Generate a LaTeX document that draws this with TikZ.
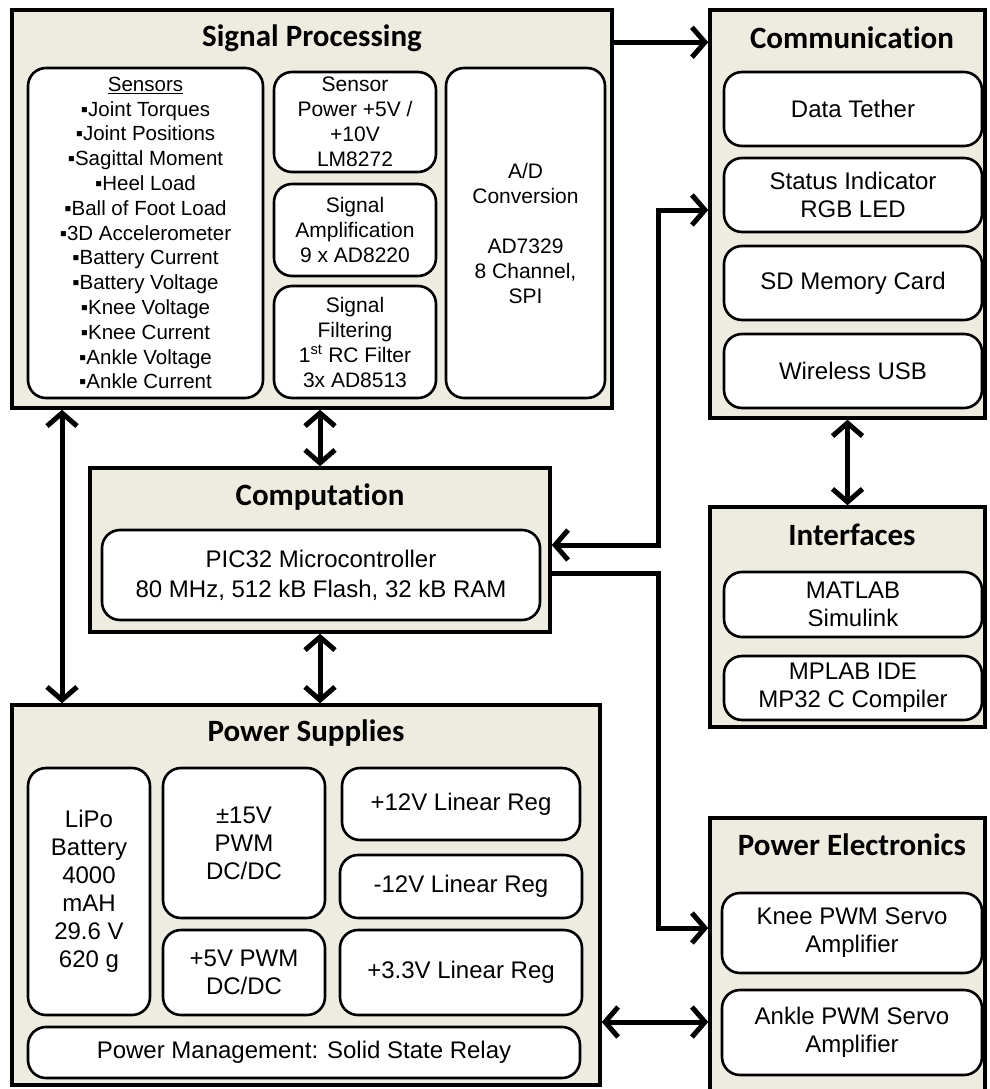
\documentclass[tikz,border=0pt]{standalone}
\usepackage{fontspec}
\setmainfont{Liberation Sans}
\newfontfamily\ttlfont{Carlito}[Ligatures=NoCommon]
\usetikzlibrary{arrows.meta,positioning,calc}
\definecolor{BDBeige}{HTML}{EEECE1}

\begin{document}
\begin{tikzpicture}[
    x=1pt,y=-1pt,
    group/.style={draw, line width=3.5pt, fill=BDBeige, inner sep=0pt},
    part/.style={draw, line width=2.6pt, fill=white, rounded corners=18pt, inner sep=2pt, align=center, font=\fontsize{24}{28}\selectfont},
    small/.style={part, font=\fontsize{21}{25}\selectfont},
    ttl/.style={font=\ttlfont\bfseries\fontsize{31}{35}\selectfont},
    link/.style={line width=5pt, -{Straight Barb[length=13pt,width=30pt]}},
    both/.style={link, {Straight Barb[length=13pt,width=30pt]}-{Straight Barb[length=13pt,width=30pt]}}
  ]
    \useasboundingbox (0,0) rectangle (989,1089);

    \node[group, minimum width=600, minimum height=398] (sp) at (312,209) {};
    \node[ttl] (sptitle) at (312,38) {Signal Processing};
    \node[part, minimum width=235, minimum height=330, font=\fontsize{20.5}{24.8}\selectfont] (sens) at (145.5,233) {\underline{Sensors}\\▪Joint Torques\\▪Joint Positions\\▪Sagittal Moment\\▪Heel Load\\▪Ball of Foot Load\\▪3D Accelerometer\\▪Battery Current\\▪Battery Voltage\\▪Knee Voltage\\▪Knee Current\\▪Ankle Voltage\\▪Ankle Current};
    \node[small, minimum width=162, minimum height=100] (spow) at (355,122) {Sensor\\Power +5V /\\+10V\\LM8272};
    \node[small, minimum width=162, minimum height=92] (samp) at (355,230) {Signal\\Amplification\\9 x AD8220};
    \node[small, minimum width=162, minimum height=112] (sfilt) at (355,342) {Signal\\Filtering\\1\textsuperscript{st} RC Filter\\3x AD8513};
    \node[small, minimum width=159, minimum height=330] (adc) at (525.5,233) {A/D\\Conversion\\[25pt]AD7329\\8 Channel,\\SPI};

    \node[group, minimum width=275, minimum height=408] (comm) at (847.5,214) {};
    \node[ttl] (commtitle) at (852,38) {Communication};
    \node[part, minimum width=258, minimum height=74] (tether) at (853,109) {Data Tether};
    \node[part, minimum width=258, minimum height=74] (status) at (853,195) {Status Indicator\\RGB LED};
    \node[part, minimum width=258, minimum height=74] (sdcard) at (853,283) {SD Memory Card};
    \node[part, minimum width=258, minimum height=74] (wusb) at (853,371) {Wireless USB};

    \node[group, minimum width=460, minimum height=164] (comp) at (320,550) {};
    \node[ttl] (comptitle) at (320,497) {Computation};
    \node[part, minimum width=438, minimum height=90, font=\fontsize{24}{30}\selectfont] (pic) at (321,575) {PIC32 Microcontroller\\80 MHz, 512 kB Flash, 32 kB RAM};

    \node[group, minimum width=275, minimum height=220] (ifc) at (847.5,617) {};
    \node[ttl] (ifctitle) at (852,535) {Interfaces};
    \node[part, minimum width=258, minimum height=65] (matlab) at (853,604.5) {MATLAB\\Simulink};
    \node[part, minimum width=258, minimum height=64] (mplab) at (853,688) {MPLAB IDE\\MP32 C Compiler};

    \node[group, minimum width=588, minimum height=380] (ps) at (306,895) {};
    \node[ttl] (pstitle) at (306,733) {Power Supplies};
    \node[part, minimum width=122, minimum height=247] (lipo) at (89,891.5) {LiPo\\Battery\\4000\\mAH\\29.6 V\\620 g};
    \node[part, minimum width=162, minimum height=150] (dcfifteen) at (244,843) {±15V\\PWM\\DC/DC};
    \node[part, minimum width=162, minimum height=85] (dcfive) at (244,972.5) {+5V PWM\\DC/DC};
    \node[part, minimum width=238, minimum height=72] (regpos) at (461,804) {+12V Linear Reg};
    \node[part, minimum width=242, minimum height=63] (regneg) at (461,886.5) {-12V Linear Reg};
    \node[part, minimum width=242, minimum height=85] (regthree) at (461,972.5) {+3.3V Linear Reg};
    \node[part, minimum width=552, minimum height=51] (relay) at (304,1052.5) {Power Management: Solid State Relay};

    \node[group, minimum width=275, minimum height=277] (pe) at (847.5,956.5) {};
    \node[ttl] (petitle) at (852,845) {Power Electronics};
    \node[part, minimum width=260, minimum height=80] (kneeamp) at (852,933) {Knee PWM Servo\\Amplifier};
    \node[part, minimum width=260, minimum height=85] (ankleamp) at (852,1032.5) {Ankle PWM Servo\\Amplifier};

    \coordinate (bus) at (658,0);
    \coordinate (leftbus) at (62,0);
    \coordinate (pwrlvl) at (0,1022);
    \coordinate (upout) at ([yshift=5pt]comp.east);
    \coordinate (upin) at ([yshift=4pt]comm.west);
    \coordinate (dnout) at ([yshift=-23pt]comp.east);
    \coordinate (dnin) at ([yshift=28.5pt]pe.west);

    \draw[link] ([yshift=-34pt]sp.north east) -- ([yshift=-34pt]comm.north west);
    \draw[both] (sp.south -| leftbus) -- (ps.north -| leftbus);
    \draw[both] (sp.south -| comp.north) -- (comp.north);
    \draw[both] (comp.south) -- (ps.north -| comp.south);
    \draw[both] (comm.south -| ifc.north) -- (ifc.north);
    \draw[both] (upout) -- (upout -| bus) |- (upin);
    \draw[link] (dnout) -- (dnout -| bus) |- (dnin);
    \draw[both] (ps.east |- pwrlvl) -- (pe.west |- pwrlvl);
\end{tikzpicture}
\end{document}
